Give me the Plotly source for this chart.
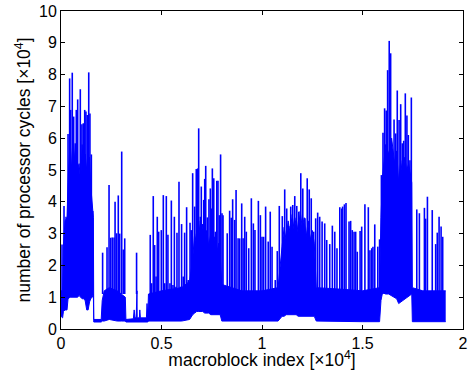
import plotly.graph_objects as go

# ---- data (x in units of 1e4 macroblocks, y in units of 1e4 cycles) ----
band_x = [0.000, 0.008, 0.012, 0.020, 0.030, 0.035, 0.045, 0.052, 0.060, 0.068,
          0.075, 0.082, 0.090, 0.098, 0.105, 0.112, 0.120, 0.128, 0.135, 0.142,
          0.148, 0.155, 0.161, 0.163, 0.200, 0.205, 0.215, 0.240, 0.280, 0.300,
          0.320, 0.323, 0.360, 0.364, 0.368, 0.374, 0.375, 0.378, 0.379, 0.390,
          0.392, 0.395, 0.425, 0.428, 0.432, 0.435, 0.500, 0.600, 0.640, 0.655,
          0.665, 0.675, 0.685, 0.695, 0.705, 0.715, 0.725, 0.735, 0.745, 0.755,
          0.765, 0.775, 0.785, 0.792, 0.800, 0.900, 1.000, 1.080, 1.100, 1.110,
          1.120, 1.130, 1.140, 1.150, 1.160, 1.170, 1.180, 1.190, 1.200, 1.210,
          1.220, 1.230, 1.240, 1.250, 1.260, 1.270, 1.400, 1.500, 1.585, 1.592,
          1.600, 1.615, 1.630, 1.645, 1.660, 1.670, 1.680, 1.690, 1.700, 1.710,
          1.720, 1.730, 1.745, 1.748, 1.800, 1.914]
band_lo = [0.40, 0.35, 0.55, 0.60, 0.60, 0.95, 1.00, 1.00, 1.00, 1.00,
           1.00, 1.00, 1.05, 1.00, 0.95, 0.95, 0.90, 0.60, 0.60, 0.85,
           0.95, 1.00, 1.10, 0.22, 0.22, 0.25, 0.25, 0.30, 0.25, 0.25,
           0.25, 0.22, 0.22, 0.22, 0.22, 0.22, 0.22, 0.22, 0.22, 0.22,
           0.22, 0.22, 0.22, 0.22, 0.22, 0.25, 0.25, 0.25, 0.30, 0.45,
           0.50, 0.55, 0.55, 0.55, 0.55, 0.50, 0.50, 0.50, 0.45, 0.45,
           0.45, 0.45, 0.45, 0.45, 0.25, 0.25, 0.25, 0.25, 0.40, 0.40,
           0.45, 0.45, 0.45, 0.45, 0.45, 0.45, 0.40, 0.40, 0.40, 0.40,
           0.40, 0.40, 0.40, 0.40, 0.40, 0.25, 0.23, 0.23, 0.23, 0.90,
           1.15, 1.10, 1.10, 1.05, 1.00, 0.95, 0.80, 0.85, 0.90, 0.95,
           1.00, 1.05, 1.10, 0.23, 0.23, 0.23]
band_hi = [1.20, 1.20, 2.60, 3.40, 3.50, 4.60, 5.90, 5.00, 6.10, 5.30,
           5.80, 5.00, 5.20, 4.60, 5.80, 5.00, 5.50, 5.00, 5.00, 5.40,
           4.50, 4.00, 3.50, 0.30, 0.30, 0.90, 1.20, 1.30, 1.20, 1.10,
           1.00, 0.30, 0.32, 0.60, 0.35, 0.35, 1.20, 1.20, 0.35, 0.35,
           0.60, 0.35, 0.35, 0.80, 0.40, 1.10, 1.20, 1.30, 1.50, 2.20,
           3.00, 2.60, 3.40, 2.80, 3.30, 2.70, 3.10, 2.60, 3.00, 2.50,
           2.90, 2.40, 2.70, 2.30, 1.40, 1.20, 1.20, 1.30, 2.60, 3.20,
           2.80, 3.40, 3.00, 3.60, 3.10, 3.50, 3.00, 3.70, 3.20, 3.50,
           2.90, 3.40, 2.80, 3.10, 2.70, 1.30, 1.25, 1.20, 1.30, 3.50,
           4.80, 5.80, 5.50, 6.00, 5.20, 5.60, 4.60, 5.30, 4.80, 5.40,
           5.00, 5.20, 4.60, 1.30, 1.20, 1.20]

spike_x = [0.005, 0.015, 0.025, 0.035, 0.043, 0.048, 0.056, 0.063, 0.071, 0.076,
           0.083, 0.090, 0.096, 0.104, 0.111, 0.118, 0.124, 0.131, 0.138, 0.144,
           0.151, 0.158,
           0.207, 0.229, 0.239, 0.247, 0.255, 0.264, 0.269, 0.277, 0.285, 0.292,
           0.302, 0.310, 0.317, 0.376,
           0.444, 0.451, 0.459, 0.466, 0.473, 0.479, 0.486, 0.493, 0.499, 0.509,
           0.516, 0.524, 0.532, 0.542, 0.549, 0.557, 0.564, 0.572, 0.577, 0.587,
           0.594, 0.600, 0.608, 0.615, 0.625, 0.633, 0.642, 0.648, 0.655, 0.665,
           0.673, 0.680, 0.685, 0.693, 0.698, 0.710, 0.715, 0.720, 0.728, 0.736,
           0.743, 0.748, 0.753, 0.760, 0.768, 0.775, 0.781, 0.788, 0.794, 0.801,
           0.806, 0.827, 0.839, 0.847, 0.854, 0.864, 0.871, 0.881, 0.889, 0.899,
           0.906, 0.914, 0.922, 0.934, 0.947, 0.957, 0.965, 0.982, 0.992, 1.000,
           1.008, 1.018, 1.031, 1.041, 1.050, 1.066, 1.076, 1.086, 1.101, 1.113,
           1.123, 1.133, 1.143, 1.153, 1.163, 1.173, 1.183, 1.193, 1.203, 1.214,
           1.225, 1.235, 1.245, 1.257, 1.267, 1.277, 1.287, 1.299, 1.312, 1.322,
           1.337, 1.350, 1.362, 1.373, 1.387, 1.397, 1.401, 1.410, 1.418, 1.433,
           1.441, 1.449, 1.458, 1.466, 1.474, 1.488, 1.496, 1.512, 1.529, 1.537,
           1.546, 1.552, 1.561, 1.576, 1.585, 1.594, 1.602, 1.610, 1.618, 1.625,
           1.633, 1.640, 1.648, 1.657, 1.665, 1.673, 1.682, 1.690, 1.698, 1.705,
           1.713, 1.721, 1.728, 1.736, 1.743, 1.770, 1.783, 1.808, 1.814, 1.823,
           1.847, 1.864, 1.872, 1.881, 1.891, 1.899]
spike_y = [2.66, 3.87, 3.53, 6.13, 7.88, 6.89, 8.06, 6.68, 5.84, 6.89,
           7.22, 4.69, 7.54, 6.44, 6.47, 6.89, 6.84, 6.73, 8.07, 6.78,
           5.49, 3.71,
           2.40, 2.57, 4.53, 2.87, 2.88, 2.88, 4.00, 3.01, 4.20, 3.00,
           5.58, 2.50, 2.85, 2.40,
           2.96, 1.44, 4.18, 2.64, 1.65, 3.53, 3.06, 1.12, 3.11, 4.21,
           1.44, 4.18, 2.96, 1.44, 4.04, 1.38, 3.53, 1.33, 3.03, 4.63,
           1.33, 3.30, 1.65, 3.03, 3.83, 1.54, 3.34, 3.11, 4.90, 3.85,
           5.03, 5.05, 6.31, 3.53, 4.48, 4.06, 4.72, 5.13, 3.51, 4.08,
           4.42, 3.79, 5.05, 4.74, 3.06, 4.66, 4.66, 3.58, 5.49, 3.64,
           3.58, 3.01, 3.72, 3.50, 4.08, 3.43, 4.37, 2.85, 2.85, 3.95,
           2.85, 3.53, 3.06, 2.54, 4.11, 3.32, 3.11, 4.03, 3.58, 2.90,
           2.90, 3.85, 2.75, 3.69, 2.59, 1.54, 2.45, 3.87, 3.55, 4.39,
           3.79, 3.24, 3.85, 3.90, 4.18, 3.87, 3.69, 4.90, 4.42, 3.48,
           4.74, 4.39, 4.11, 3.06, 3.48, 3.66, 3.53, 3.38, 3.32, 2.80,
           2.67, 3.25, 3.06, 2.54, 3.83, 3.79, 3.85, 3.92, 3.96, 3.38,
           3.40, 3.11, 3.06, 3.06, 2.43, 3.08, 3.22, 3.92, 3.83, 2.48,
           2.54, 2.59, 3.29, 2.59, 2.82, 4.84, 6.17, 6.94, 6.87, 8.14,
           9.06, 8.67, 5.21, 6.59, 6.15, 7.50, 6.57, 7.07, 5.84, 5.92,
           7.41, 6.71, 6.10, 5.31, 7.28, 3.76, 3.64, 3.81, 3.47, 4.16,
           3.74, 2.67, 3.03, 3.53, 3.22, 2.90]
spike_base = 1.1

x_tickvals = [0, 0.5, 1, 1.5, 2]
x_ticktext = ["0", "0.5", "1", "1.5", "2"]
y_tickvals = list(range(0, 11))

BLUE = "#0000ff"

fig = go.Figure()
fig.add_trace(go.Scatter(x=band_x, y=band_lo, mode="lines",
                         line=dict(color=BLUE, width=1), hoverinfo="skip"))
fig.add_trace(go.Scatter(x=band_x, y=band_hi, mode="lines", fill="tonexty",
                         fillcolor=BLUE, line=dict(color=BLUE, width=1),
                         hoverinfo="skip"))

sx, sy = [], []
for xv, yv in zip(spike_x, spike_y):
    sx += [xv, xv, None]
    sy += [min(spike_base, yv), yv, None]
fig.add_trace(go.Scatter(x=sx, y=sy, mode="lines",
                         line=dict(color=BLUE, width=1.6), hoverinfo="skip"))

axis_common = dict(showgrid=False, zeroline=False, showline=True,
                   linecolor="black", linewidth=1, mirror="ticks",
                   ticks="inside", ticklen=4, tickcolor="black",
                   automargin=False, ticklabeloverflow="allow",
                   tickfont=dict(size=16, color="black"))

fig.update_layout(
    width=468, height=370,
    margin=dict(l=61, r=5, t=11, b=41, autoexpand=False),
    paper_bgcolor="white", plot_bgcolor="white",
    showlegend=False,
    font=dict(family="Liberation Sans, Arial, sans-serif", color="black"),
    xaxis=dict(range=[0, 2], tickvals=x_tickvals, ticktext=x_ticktext,
               title=dict(text="macroblock index [×10<sup>4</sup>]",
                          font=dict(size=17.5), standoff=2),
               **axis_common),
    yaxis=dict(range=[0, 10], tickvals=y_tickvals,
               title=dict(text="number of processor cycles [×10<sup>4</sup>]",
                          font=dict(size=17.5), standoff=3),
               **axis_common),
)

# remove the page's default 8px body margin so the figure sits at the window origin
fig.write_html("out.html",
               config={"displayModeBar": False, "staticPlot": True},
               post_script="document.body.style.margin='0';")
